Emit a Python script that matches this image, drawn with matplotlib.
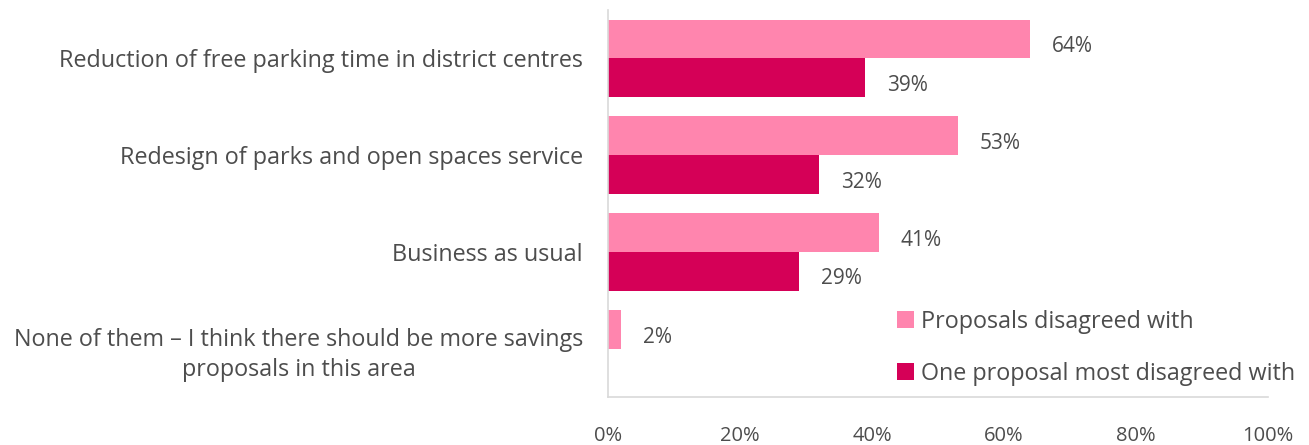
import matplotlib
matplotlib.use("Agg")
import matplotlib.pyplot as plt
import numpy as np

# Datos de la encuesta
categorias = [
    "Reduction of free parking time in district centres",
    "Redesign of parks and open spaces service",
    "Business as usual",
    "None of them – I think there should be more savings\nproposals in this area",
]
desacuerdo = [64, 53, 41, 2]          # Proposals disagreed with
mas_desacuerdo = [39, 32, 29, None]   # One proposal most disagreed with
series = ["Proposals disagreed with", "One proposal most disagreed with"]
colores = ["#FF85AE", "#D50057"]
ticks = [0, 20, 40, 60, 80, 100]

plt.rcParams["font.family"] = ["Open Sans", "DejaVu Sans"]
texto = "#4D4D4D"

fig = plt.figure(figsize=(13.09, 4.45), dpi=100)
ax = fig.add_axes([0.4645, 0.1079, 0.5042, 0.8696])

y = np.arange(len(categorias))
alto = 0.4

# Barras de cada serie con su etiqueta de valor
for i, (valores, nombre, color) in enumerate(zip([desacuerdo, mas_desacuerdo], series, colores)):
    pos = y - alto / 2 + i * alto
    vals = [v if v is not None else 0 for v in valores]
    ax.barh(pos, vals, height=alto, color=color, label=nombre)
    for p, v in zip(pos, valores):
        if v is None:
            continue
        ax.text(v + 3.3, p + 0.08, f"{v}%", va="center", ha="left",
                fontsize=15, color=texto)

ax.set_xlim(0, 100)
ax.set_ylim(len(categorias) - 0.5, -0.5)
ax.set_xticks(ticks)
ax.set_xticklabels([f"{t}%" for t in ticks], fontsize=14.5, color=texto)
ax.set_yticks(y)
ax.set_yticklabels(categorias, fontsize=16.8, color=texto,
                   multialignment="center", linespacing=1.35)
ax.tick_params(axis="y", length=0, pad=18)
ax.tick_params(axis="x", length=0, pad=21)

for lado in ["top", "right"]:
    ax.spines[lado].set_visible(False)
for lado in ["left", "bottom"]:
    ax.spines[lado].set_color("#D9D9D9")
    ax.spines[lado].set_linewidth(1.2)

ax.legend(loc="upper left", bbox_to_anchor=(0.424, 0.25), frameon=False,
          fontsize=16.8, handlelength=0.72, handleheight=0.72,
          handletextpad=0.3, labelspacing=1.2, labelcolor=texto,
          borderaxespad=0)

plt.savefig("out.png", dpi=100)
